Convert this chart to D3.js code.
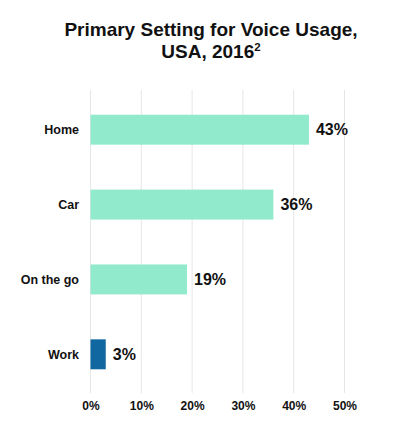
<!DOCTYPE html>
<html>
<head>
<meta charset="utf-8">
<script src="https://cdn.jsdelivr.net/npm/d3@7"></script>
<style>
  html, body { margin: 0; padding: 0; background: #fff; }
  svg { display: block; font-family: "Liberation Sans", Arial, sans-serif; }
</style>
</head>
<body>
<svg id="chart" width="417" height="432"></svg>
<script>
const categories = ["Home", "Car", "On the go", "Work"];
const values = [43, 36, 19, 3];
const highlight = ["Work"];
const tickValues = [0, 10, 20, 30, 40, 50];
const titleLines = ["Primary Setting for Voice Usage,", "USA, 2016"];
const titleSup = "2";

const svg = d3.select("#chart");
const x = d3.scaleLinear().domain([0, 50]).range([90.5, 344.5]);
const y = d3.scaleBand().domain(categories).range([90, 394]).paddingInner(0.6).paddingOuter(0.33);

// title
const title = svg.append("text").attr("text-anchor", "middle").attr("font-weight", "bold")
  .attr("font-size", 19).attr("fill", "#111");
title.append("tspan").attr("x", 211).attr("y", 36).text(titleLines[0]);
const t2 = title.append("tspan").attr("x", 211).attr("y", 58);
t2.append("tspan").text(titleLines[1]);
t2.append("tspan").attr("font-size", 11.5).attr("dy", -7).text(titleSup);

// gridlines
svg.append("g").selectAll("line").data(tickValues).join("line")
  .attr("x1", d => x(d)).attr("x2", d => x(d))
  .attr("y1", 90).attr("y2", 393)
  .attr("stroke", "#e6e6e6").attr("stroke-width", 1);

// axis labels
const axis = svg.append("g").attr("transform", "translate(0,401)")
  .call(d3.axisBottom(x).tickValues(tickValues).tickFormat(d => d + "%").tickSize(0).tickPadding(0));
axis.select(".domain").remove();
axis.selectAll("text").attr("font-size", 12).attr("font-weight", "bold")
  .attr("fill", "#111").attr("font-family", "Liberation Sans, Arial, sans-serif").attr("dy", "0.71em");

// bars
const data = categories.map((c, i) => ({ c, v: values[i] }));
svg.append("g").selectAll("rect").data(data).join("rect")
  .attr("x", x(0)).attr("y", d => y(d.c))
  .attr("width", d => x(d.v) - x(0)).attr("height", y.bandwidth())
  .attr("fill", d => highlight.includes(d.c) ? "#11679f" : "#90eacb");

// category labels
svg.append("g").selectAll("text").data(data).join("text")
  .attr("x", 79).attr("y", d => y(d.c) + y.bandwidth() / 2).attr("dy", "0.36em")
  .attr("text-anchor", "end").attr("font-size", 12.5).attr("font-weight", "bold").attr("fill", "#111")
  .text(d => d.c);

// value labels
svg.append("g").selectAll("text").data(data).join("text")
  .attr("x", d => x(d.v) + 7).attr("y", d => y(d.c) + y.bandwidth() / 2).attr("dy", "0.36em")
  .attr("font-size", 16).attr("font-weight", "bold").attr("fill", "#111")
  .text(d => d.v + "%");
</script>
</body>
</html>
